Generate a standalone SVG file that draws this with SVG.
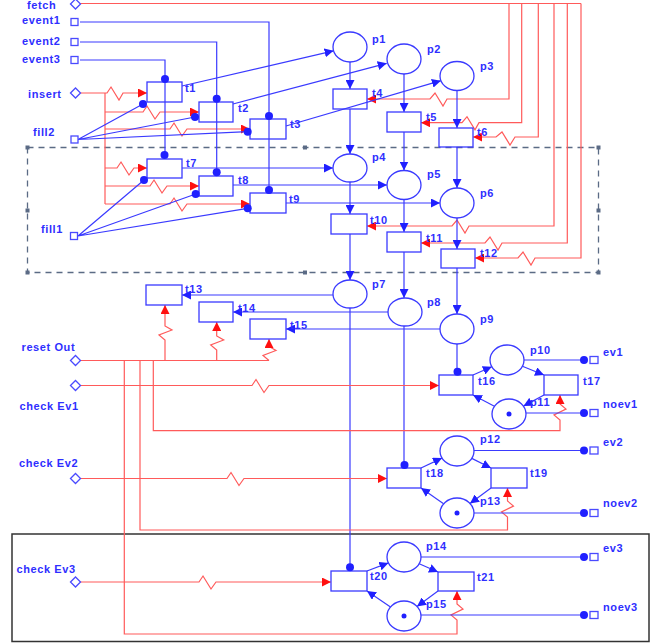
<svg xmlns="http://www.w3.org/2000/svg" width="657" height="643" viewBox="0 0 657 643">
<defs>
<style>
.lb{font-family:"Liberation Sans",Arial,sans-serif;font-size:11px;font-weight:bold;fill:#2f2fff;letter-spacing:0.6px}
.b{fill:none;stroke:#3a3aff;stroke-width:1.2}
.r{fill:none;stroke:#ff5a5a;stroke-width:1.2}
.tr{fill:none;stroke:#3a3aff;stroke-width:1.3}
.pl{fill:#fff;stroke:#3a3aff;stroke-width:1.3}
.dot{fill:#2020ff}
.port{fill:#fff;stroke:#4a4aff;stroke-width:1.3}
.ab{marker-end:url(#ab)}
.ar{marker-end:url(#ar)}
</style>
<marker id="ab" viewBox="0 0 10 10" refX="10" refY="5" markerWidth="9" markerHeight="9" markerUnits="userSpaceOnUse" orient="auto"><path d="M0,0L10,5L0,10z" fill="#2020ff"/></marker>
<marker id="ar" viewBox="0 0 10 10" refX="10" refY="5" markerWidth="9" markerHeight="9" markerUnits="userSpaceOnUse" orient="auto"><path d="M0,0L10,5L0,10z" fill="#ff1010"/></marker>
</defs>
<rect width="657" height="643" fill="#fff"/>

<g id="frames">
<rect x="27.5" y="147.5" width="571" height="125" fill="none" stroke="#5b6b85" stroke-width="1.3" stroke-dasharray="6,5"/>
<g fill="#5b6b85">
<rect x="25.5" y="145.5" width="4" height="4"/><rect x="303" y="145.5" width="4" height="4"/><rect x="596.5" y="145.5" width="4" height="4"/>
<rect x="25.5" y="208.5" width="4" height="4"/><rect x="596.5" y="208.5" width="4" height="4"/>
<rect x="25.5" y="270.5" width="4" height="4"/><rect x="303" y="270.5" width="4" height="4"/><rect x="596.5" y="270.5" width="4" height="4"/>
</g>
<rect x="12" y="534" width="637" height="107.5" fill="none" stroke="#333" stroke-width="1.5"/>
</g>

<g id="connectors">
<!-- fetch -->
<path class="r" d="M80,3.5 H581"/>
<path class="r ar" d="M509,3.5 V99 H447 l-4,7 l-8,-13 l-5,6 H367"/>
<path class="r ar" d="M521.7,3.5 V122.7 H479 l-4,7 l-8,-13 l-5,6 H421"/>
<path class="r ar" d="M538.3,3.5 V137 H515 l-5,8 l-8,-13 l-6,5 H473"/>
<path class="r ar" d="M554,3.5 V226 H469 l-4,7 l-8,-13 l-5,6 H367"/>
<path class="r ar" d="M567.3,3.5 V243 H502 l-4,7 l-8,-13 l-5,6 H421"/>
<path class="r ar" d="M581,3.5 V258 H535 l-4,7 l-8,-13 l-5,6 H475"/>
<!-- insert -->
<path class="r ar" d="M80,93 H107 l4,-6 l8,13 l4,-7 H147"/>
<path class="r" d="M105,93 V204"/>
<path class="r ar" d="M105,112 H143 l4,-6 l8,13 l5,-7 H199"/>
<path class="r ar" d="M105,129 H170 l4,-6 l8,13 l5,-7 H250"/>
<path class="r ar" d="M105,168 H117 l4,-6 l8,13 l5,-7 H147"/>
<path class="r ar" d="M105,186 H150 l4,-6 l8,13 l5,-7 H199"/>
<path class="r ar" d="M105,204 H170 l4,-6 l8,13 l5,-7 H250"/>
<!-- events -->
<path class="b" d="M80,22 H269 V190"/>
<path class="b" d="M80,42 H216.7 V172"/>
<path class="b" d="M80,60 H165 V155"/>
<!-- fill lines -->
<path class="b" d="M78,139.5 L143,104 M78,139.5 L195,117 M78,139.5 L247.7,131.7"/>
<path class="b" d="M78,236 L144,180 M78,236 L195.7,194 M78,236 L247.7,208.3"/>
<!-- upper net -->
<path class="b ab" d="M182,86 L333.6,50.8"/>
<path class="b ab" d="M233,104 L386.7,63.3"/>
<path class="b ab" d="M286,126 L440.9,80.7"/>
<path class="b ab" d="M350,62 V89"/>
<path class="b ab" d="M404,74 V112"/>
<path class="b ab" d="M457,90.5 V128"/>
<path class="b ab" d="M350,109 V154"/>
<path class="b ab" d="M404,132 V170.5"/>
<path class="b ab" d="M457,147 V188"/>
<path class="b ab" d="M182,168 H333"/>
<path class="b ab" d="M233,185 H387"/>
<path class="b ab" d="M286,203 H440"/>
<path class="b ab" d="M350,182 V214"/>
<path class="b ab" d="M404,200 V232"/>
<path class="b ab" d="M457,218 V249"/>
<path class="b ab" d="M350,234 V280"/>
<path class="b ab" d="M404,252 V298"/>
<path class="b ab" d="M457,268 V314"/>
<path class="b ab" d="M333,295 H182"/>
<path class="b ab" d="M388,312 H233"/>
<path class="b ab" d="M440,329 H286"/>
<path class="b" d="M457,344 V372"/>
<path class="b" d="M404,326 V465"/>
<path class="b" d="M350,308 V567"/>
<!-- reset -->
<path class="r" d="M80,360.5 H269"/>
<path class="r ar" d="M165,360.5 V340 l-6,-5 l13,-5 l-7,-4 V305"/>
<path class="r ar" d="M216.7,360.5 V350 l-6,-5 l13,-5 l-7,-4 V322"/>
<path class="r ar" d="M269,360.5 l-6,-5 l13,-5 l-7,-4 V339"/>
<path class="r ar" d="M153.3,360.5 V430.7 H560 V420 l-6,-5 l12,-6 l-6,-5 V395"/>
<path class="r ar" d="M140,360.5 V530 H507.5 V517 l-6,-5 l12,-6 l-6,-5 V488"/>
<path class="r ar" d="M124.3,360.5 V634 H457 V620 l-6,-5 l12,-6 l-6,-5 V591"/>
<!-- check -->
<path class="r ar" d="M80,385.5 H252 l4,-6 l8,13 l5,-7 H439"/>
<path class="r ar" d="M80,478.5 H227 l4,-6 l8,13 l5,-7 H387"/>
<path class="r ar" d="M80,582 H199 l4,-6 l8,13 l5,-7 H331"/>
<!-- module 1 -->
<path class="b ab" d="M473,375 L491.8,366.7"/>
<path class="b ab" d="M522.4,366.3 L544,375"/>
<path class="b ab" d="M544,395 L523.5,406.1"/>
<path class="b ab" d="M494.4,406.3 L473,395"/>
<path class="b" d="M524,360 H584 M526,413 H584"/>
<!-- module 2 -->
<path class="b ab" d="M421,468 L442,458.1"/>
<path class="b ab" d="M471.8,458.4 L491,468"/>
<path class="b ab" d="M491,488 L470,503.4"/>
<path class="b ab" d="M443.6,503.7 L421,488"/>
<path class="b" d="M474,450.5 H584 M474,513 H584"/>
<!-- module 3 -->
<path class="b ab" d="M367,571 L388.4,562.9"/>
<path class="b ab" d="M419.2,563.7 L438,572"/>
<path class="b ab" d="M438,591 L417,606.4"/>
<path class="b ab" d="M390.5,606.9 L367,591"/>
<path class="b" d="M421,557 H584 M421,615 H584"/>
</g>

<g id="ports">
<polygon class="port" points="70.5,4 75.5,-1 80.5,4 75.5,9"/>
<text class="lb" x="27" y="9">fetch</text>
<rect class="port" x="71" y="18.5" width="7" height="7"/><text class="lb" x="22" y="24">event1</text>
<rect class="port" x="71" y="38.5" width="7" height="7"/><text class="lb" x="22" y="45">event2</text>
<rect class="port" x="71" y="56.5" width="7" height="7"/><text class="lb" x="22" y="63">event3</text>
<polygon class="port" points="70.5,93 75.5,88 80.5,93 75.5,98"/><text class="lb" x="28" y="97.5">insert</text>
<rect class="port" x="71" y="136" width="7" height="7"/><text class="lb" x="33" y="136">fill2</text>
<rect class="port" x="70.5" y="232.5" width="7" height="7"/><text class="lb" x="41" y="232.5">fill1</text>
<polygon class="port" points="70.5,360.5 75.5,355.5 80.5,360.5 75.5,365.5"/><text class="lb" x="21.5" y="350.5">reset Out</text>
<polygon class="port" points="70.5,385.5 75.5,380.5 80.5,385.5 75.5,390.5"/><text class="lb" x="19.5" y="410">check Ev1</text>
<polygon class="port" points="70.5,478.5 75.5,473.5 80.5,478.5 75.5,483.5"/><text class="lb" x="19" y="466.5">check Ev2</text>
<polygon class="port" points="70.5,582 75.5,577 80.5,582 75.5,587"/><text class="lb" x="16.5" y="573">check Ev3</text>
<g id="ev1"><rect class="port" x="590" y="356.5" width="8" height="7"/><circle class="dot" cx="584" cy="360" r="4"/><text class="lb" x="603" y="356">ev1</text></g>
<g id="noev1"><rect class="port" x="590" y="409.5" width="8" height="7"/><circle class="dot" cx="584" cy="413" r="4"/><text class="lb" x="603" y="408">noev1</text></g>
<g id="ev2"><rect class="port" x="590" y="447" width="8" height="7"/><circle class="dot" cx="584" cy="450.5" r="4"/><text class="lb" x="603" y="446">ev2</text></g>
<g id="noev2"><rect class="port" x="590" y="509.5" width="8" height="7"/><circle class="dot" cx="584" cy="513" r="4"/><text class="lb" x="603" y="507">noev2</text></g>
<g id="ev3"><rect class="port" x="590" y="553.5" width="8" height="7"/><circle class="dot" cx="584" cy="557" r="4"/><text class="lb" x="603" y="552">ev3</text></g>
<g id="noev3"><rect class="port" x="590" y="611.5" width="8" height="7"/><circle class="dot" cx="584" cy="615" r="4"/><text class="lb" x="603" y="610.5">noev3</text></g>
</g>

<g id="places">
<g id="p1"><ellipse class="pl" cx="350" cy="47" rx="17" ry="15"/><text class="lb" x="372" y="43">p1</text></g>
<g id="p2"><ellipse class="pl" cx="404" cy="59" rx="17" ry="15"/><text class="lb" x="427" y="53">p2</text></g>
<g id="p3"><ellipse class="pl" cx="457" cy="76" rx="17" ry="14.5"/><text class="lb" x="480" y="70">p3</text></g>
<g id="p4"><ellipse class="pl" cx="350" cy="168" rx="17" ry="14"/><text class="lb" x="372" y="161">p4</text></g>
<g id="p5"><ellipse class="pl" cx="404" cy="185" rx="17" ry="14.5"/><text class="lb" x="427" y="178">p5</text></g>
<g id="p6"><ellipse class="pl" cx="457" cy="203" rx="17" ry="15"/><text class="lb" x="480" y="197">p6</text></g>
<g id="p7"><ellipse class="pl" cx="350" cy="294" rx="17" ry="14"/><text class="lb" x="372" y="288">p7</text></g>
<g id="p8"><ellipse class="pl" cx="405" cy="312" rx="17" ry="14"/><text class="lb" x="427" y="306">p8</text></g>
<g id="p9"><ellipse class="pl" cx="457" cy="329" rx="17" ry="15"/><text class="lb" x="480" y="323">p9</text></g>
<g id="p10"><ellipse class="pl" cx="507" cy="360" rx="17" ry="15"/><text class="lb" x="530" y="354">p10</text></g>
<g id="p11"><ellipse class="pl" cx="509" cy="414" rx="17" ry="15"/><circle class="dot" cx="509" cy="414" r="2.5"/><text class="lb" x="530" y="406">p11</text></g>
<g id="p12"><ellipse class="pl" cx="457" cy="451" rx="17" ry="15"/><text class="lb" x="480" y="443">p12</text></g>
<g id="p13"><ellipse class="pl" cx="457" cy="513" rx="17" ry="15"/><circle class="dot" cx="457" cy="513" r="2.5"/><text class="lb" x="480" y="505">p13</text></g>
<g id="p14"><ellipse class="pl" cx="404" cy="557" rx="17" ry="15"/><text class="lb" x="426" y="550">p14</text></g>
<g id="p15"><ellipse class="pl" cx="404" cy="616" rx="17" ry="15"/><circle class="dot" cx="404" cy="616" r="2.5"/><text class="lb" x="426" y="608">p15</text></g>
</g>

<g id="transitions">
<g id="t1"><rect class="tr" x="147" y="82" width="35" height="20"/><circle class="dot" cx="165" cy="79" r="4"/><circle class="dot" cx="143" cy="104" r="4"/><text class="lb" x="185" y="91.5">t1</text></g>
<g id="t2"><rect class="tr" x="199" y="102" width="34" height="20"/><circle class="dot" cx="216.7" cy="98.7" r="4"/><circle class="dot" cx="195" cy="117" r="4"/><text class="lb" x="238" y="111.5">t2</text></g>
<g id="t3"><rect class="tr" x="250" y="119" width="36" height="20"/><circle class="dot" cx="269" cy="116" r="4"/><circle class="dot" cx="247.7" cy="131.7" r="4"/><text class="lb" x="290" y="128">t3</text></g>
<g id="t4"><rect class="tr" x="333" y="89" width="34" height="20"/><text class="lb" x="372" y="97">t4</text></g>
<g id="t5"><rect class="tr" x="387" y="112" width="34" height="20"/><text class="lb" x="426" y="120.5">t5</text></g>
<g id="t6"><rect class="tr" x="439" y="128" width="34" height="19"/><text class="lb" x="477" y="136">t6</text></g>
<g id="t7"><rect class="tr" x="147" y="159" width="35" height="19"/><circle class="dot" cx="164.5" cy="155" r="4"/><circle class="dot" cx="144" cy="180" r="4"/><text class="lb" x="186" y="167">t7</text></g>
<g id="t8"><rect class="tr" x="199" y="176" width="34" height="20"/><circle class="dot" cx="216.7" cy="172.3" r="4"/><circle class="dot" cx="195.7" cy="194" r="4"/><text class="lb" x="238" y="184">t8</text></g>
<g id="t9"><rect class="tr" x="250" y="193" width="36" height="20"/><circle class="dot" cx="269" cy="190" r="4"/><circle class="dot" cx="247.7" cy="208.3" r="4"/><text class="lb" x="289" y="203">t9</text></g>
<g id="t10"><rect class="tr" x="331" y="214" width="36" height="20"/><text class="lb" x="370" y="224">t10</text></g>
<g id="t11"><rect class="tr" x="387" y="232" width="34" height="20"/><text class="lb" x="426" y="241.5">t11</text></g>
<g id="t12"><rect class="tr" x="441" y="249" width="34" height="19"/><text class="lb" x="480" y="257">t12</text></g>
<g id="t13"><rect class="tr" x="146" y="285" width="36" height="20"/><text class="lb" x="185" y="293">t13</text></g>
<g id="t14"><rect class="tr" x="199" y="302" width="34" height="20"/><text class="lb" x="238" y="312">t14</text></g>
<g id="t15"><rect class="tr" x="250" y="319" width="36" height="20"/><text class="lb" x="290" y="329">t15</text></g>
<g id="t16"><rect class="tr" x="439" y="375" width="34" height="20"/><circle class="dot" cx="457.5" cy="371.7" r="4"/><text class="lb" x="478" y="385">t16</text></g>
<g id="t17"><rect class="tr" x="544" y="375" width="34" height="20"/><text class="lb" x="583" y="385">t17</text></g>
<g id="t18"><rect class="tr" x="387" y="468" width="34" height="20"/><circle class="dot" cx="404.5" cy="465" r="4"/><text class="lb" x="426" y="477">t18</text></g>
<g id="t19"><rect class="tr" x="491" y="468" width="36" height="20"/><text class="lb" x="530" y="477">t19</text></g>
<g id="t20"><rect class="tr" x="331" y="571" width="36" height="20"/><circle class="dot" cx="350" cy="567.3" r="4"/><text class="lb" x="370" y="580">t20</text></g>
<g id="t21"><rect class="tr" x="438" y="572" width="36" height="19"/><text class="lb" x="477" y="580.5">t21</text></g>
</g>
</svg>
